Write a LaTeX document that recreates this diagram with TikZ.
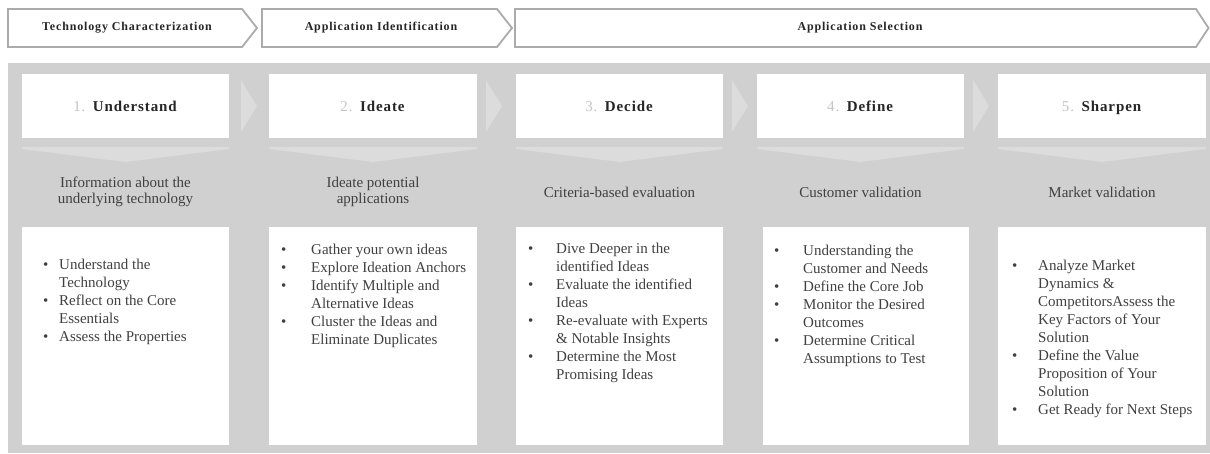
\documentclass[tikz,border=0pt]{standalone}
\usepackage{fontspec}
\setmainfont{Liberation Serif}

\definecolor{panel}{HTML}{D0D0D0}
\definecolor{pale}{HTML}{DCDCDC}
\definecolor{ink}{HTML}{404040}
\definecolor{numgray}{HTML}{C4C4C4}
\definecolor{rim}{HTML}{ABABAB}
\definecolor{headink}{HTML}{262626}

\newcommand\bul{\textbullet}

\tikzset{
  phase/.style={draw=rim, line width=1.8pt, fill=white, line join=miter},
  phasetext/.style={inner sep=0pt, text=headink,
    font=\fontsize{12}{14}\selectfont\bfseries\addfontfeatures{LetterSpace=7}},
  stepcard/.style={fill=white, inner sep=0pt, minimum height=64pt},
  steptitle/.style={inner sep=0pt, text=headink, text height=10.5pt, text depth=3.5pt,
    font=\fontsize{15}{18}\selectfont\addfontfeatures{LetterSpace=6}},
  listcard/.style={fill=white, inner sep=0pt, minimum height=218pt},
  note/.style={inner sep=0pt, text=ink, align=center,
    font=\fontsize{15}{16}\selectfont},
  pointer/.style={fill=pale},
  blist/.style={inner sep=0pt, anchor=north west, text=ink,
    font=\fontsize{15}{18}\selectfont},
}

\begin{document}
\begin{tikzpicture}[x=1pt, y=-1pt]
\useasboundingbox (0,0) rectangle (1210,454);

% phase chevrons along the top
\draw[phase] (8,9) -- (242,9) -- (257,28) -- (242,47) -- (8,47) -- cycle;
\node[phasetext] (ph1) at (127,28) {Technology Characterization};
\draw[phase] (262,9) -- (497,9) -- (512,28) -- (497,47) -- (262,47) -- cycle;
\node[phasetext] (ph2) at (381,28) {Application Identification};
\draw[phase] (515,9) -- (1196,9) -- (1208.5,28) -- (1196,47) -- (515,47) -- cycle;
\node[phasetext] (ph3) at (860,28) {Application Selection};

% grey background panel
\fill[panel] (8,63) rectangle (1210,453);

% step title cards
\node[stepcard, minimum width=207pt] (s1) at (125.5,106) {};
\node[stepcard, minimum width=208pt] (s2) at (373,106) {};
\node[stepcard, minimum width=207pt] (s3) at (619.5,106) {};
\node[stepcard, minimum width=207pt] (s4) at (860.5,106) {};
\node[stepcard, minimum width=208pt] (s5) at (1102,106) {};

\node[steptitle] (t1) at (125.5,108.5) {{\color{numgray}1.}\enspace\textbf{Understand}};
\node[steptitle] (t2) at (373,108.5) {{\color{numgray}2.}\enspace\textbf{Ideate}};
\node[steptitle] (t3) at (619.5,108.5) {{\color{numgray}3.}\enspace\textbf{Decide}};
\node[steptitle] (t4) at (860.5,108.5) {{\color{numgray}4.}\enspace\textbf{Define}};
\node[steptitle] (t5) at (1102,108.5) {{\color{numgray}5.}\enspace\textbf{Sharpen}};

% right-pointing arrows between the cards
\fill[pointer] (241,80) -- (257,106) -- (241,132) -- cycle;
\fill[pointer] (486,80) -- (502,106) -- (486,132) -- cycle;
\fill[pointer] (732,80) -- (748,106) -- (732,132) -- cycle;
\fill[pointer] (973,80) -- (989,106) -- (973,132) -- cycle;

% downward pointers under the cards
\fill[pointer] (22,147) -- (229,147) -- (229,149) -- (125.5,162) -- (22,149) -- cycle;
\fill[pointer] (269,147) -- (477,147) -- (477,149) -- (373,162) -- (269,149) -- cycle;
\fill[pointer] (516,147) -- (723,147) -- (723,149) -- (619.5,162) -- (516,149) -- cycle;
\fill[pointer] (757,147) -- (964,147) -- (964,149) -- (860.5,162) -- (757,149) -- cycle;
\fill[pointer] (998,147) -- (1206,147) -- (1206,149) -- (1102,162) -- (998,149) -- cycle;

% short descriptions
\node[note] (n1) at (125.5,192) {Information about the\\underlying technology};
\node[note] (n2) at (373,192) {Ideate potential\\applications};
\node[note] (n3) at (619.5,192) {Criteria-based evaluation};
\node[note] (n4) at (860.5,192) {Customer validation};
\node[note] (n5) at (1102,192) {Market validation};

% activity cards
\node[listcard, minimum width=207pt] (c1) at (125.5,336) {};
\node[listcard, minimum width=208pt] (c2) at (373,336) {};
\node[listcard, minimum width=207pt] (c3) at (619.5,336) {};
\node[listcard, minimum width=206pt] (c4) at (866,336) {};
\node[listcard, minimum width=208pt] (c5) at (1102,336) {};

\node[blist] (l1) at (43,256.4) {\begin{tabular}{@{}p{16pt}@{}l@{}}
\bul & Understand the\\
     & Technology\\
\bul & Reflect on the Core\\
     & Essentials\\
\bul & Assess the Properties
\end{tabular}};

\node[blist] (l2) at (281,241.4) {\begin{tabular}{@{}p{30pt}@{}l@{}}
\bul & Gather your own ideas\\
\bul & Explore Ideation Anchors\\
\bul & Identify Multiple and\\
     & Alternative Ideas\\
\bul & Cluster the Ideas and\\
     & Eliminate Duplicates
\end{tabular}};

\node[blist] (l3) at (528,240.4) {\begin{tabular}{@{}p{28pt}@{}l@{}}
\bul & Dive Deeper in the\\
     & identified Ideas\\
\bul & Evaluate the identified\\
     & Ideas\\
\bul & Re-evaluate with Experts\\
     & \& Notable Insights\\
\bul & Determine the Most\\
     & Promising Ideas
\end{tabular}};

\node[blist] (l4) at (774,242.4) {\begin{tabular}{@{}p{29pt}@{}l@{}}
\bul & Understanding the\\
     & Customer and Needs\\
\bul & Define the Core Job\\
\bul & Monitor the Desired\\
     & Outcomes\\
\bul & Determine Critical\\
     & Assumptions to Test
\end{tabular}};

\node[blist] (l5) at (1012,257.4) {\begin{tabular}{@{}p{26pt}@{}l@{}}
\bul & Analyze Market\\
     & Dynamics \&\\
     & CompetitorsAssess the\\
     & Key Factors of Your\\
     & Solution\\
\bul & Define the Value\\
     & Proposition of Your\\
     & Solution\\
\bul & Get Ready for Next Steps
\end{tabular}};

\end{tikzpicture}
\end{document}
